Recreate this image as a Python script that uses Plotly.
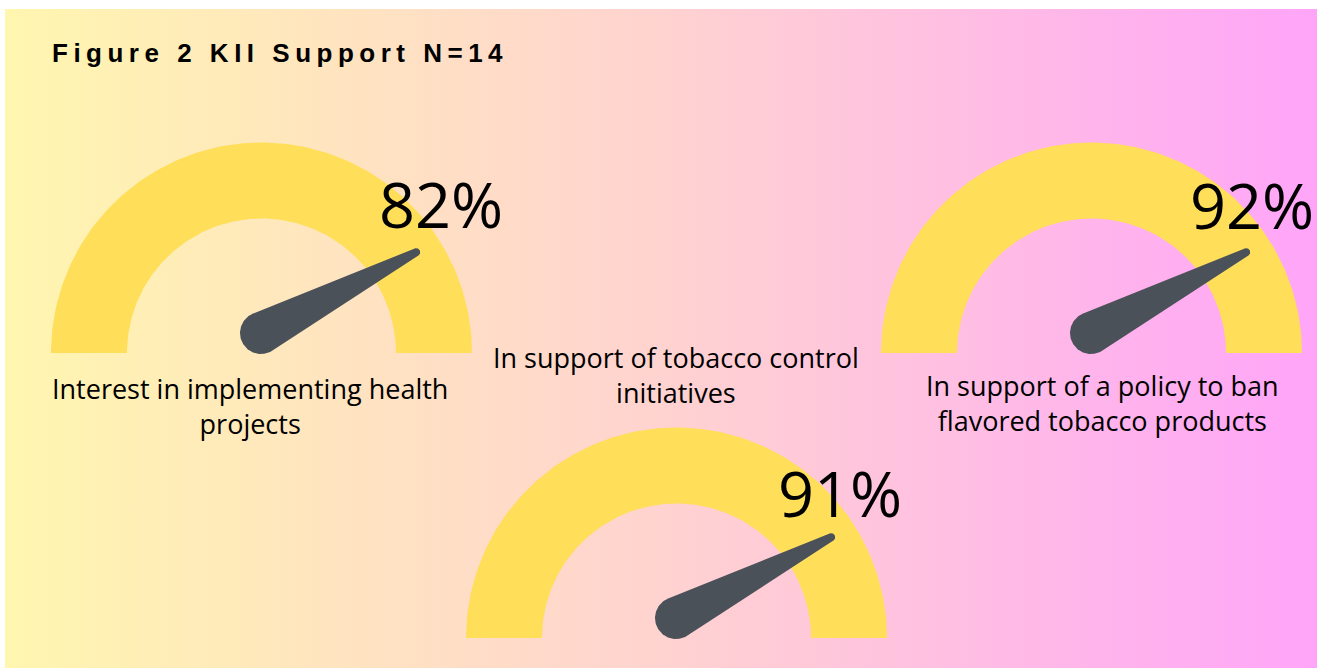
import numpy as np
import plotly.graph_objects as go

# ---------------- data ----------------
TITLE = "Figure 2 KII Support N=14"
GAUGE_LABELS = [
    "Interest in implementing health<br>projects",
    "In support of tobacco control<br>initiatives",
    "In support of a policy to ban<br>flavored tobacco products",
]
GAUGE_VALUES = [82, 91, 92]

# ---------------- layout / style ----------------
W, H = 1317, 669
CENTERS = [(261.5, 353), (676.5, 638), (1091.5, 353)]      # arc base centre (px)
VALUE_POS = [(441, 203), (840, 492), (1252, 204)]           # percent text centre
LABEL_POS = [(250, 406), (676, 375), (1102, 403)]           # label centre
R_OUT, R_IN = 210.5, 134.5
ARC_COLOR = "#FFDE59"
NEEDLE_COLOR = "#4B5159"
NEEDLE_ANGLE = 27.5      # decorative needle angle in the reference (deg)
NEEDLE_LEN, R_BASE, R_TIP = 175, 21, 4
TEXT_FONT = "Open Sans"

fig = go.Figure()

# background gradient panel
fig.add_trace(go.Scatter(
    x=[5, W, W, 5, 5], y=[9, 9, 668, 668, 9], mode="lines",
    line=dict(width=0), fill="toself",
    fillgradient=dict(type="horizontal",
                      colorscale=[[0, "#FFF6AF"], [0.5, "#FFD3D0"], [1, "#FFA5F9"]]),
    hoverinfo="skip", showlegend=False))

def arc_poly(cx, cy):
    t = np.linspace(0, np.pi, 181)
    xo = cx + R_OUT * np.cos(t)
    yo = cy - R_OUT * np.sin(t)
    xi = cx + R_IN * np.cos(t[::-1])
    yi = cy - R_IN * np.sin(t[::-1])
    return np.r_[xo, xi, xo[0]], np.r_[yo, yi, yo[0]]

def needle_poly(px, py):
    th = np.radians(NEEDLE_ANGLE)
    phi = np.arcsin((R_BASE - R_TIP) / NEEDLE_LEN)
    a1 = th + (np.pi / 2 - phi)
    a2 = th - (np.pi / 2 - phi) + 2 * np.pi
    tx, ty = np.cos(th) * NEEDLE_LEN, np.sin(th) * NEEDLE_LEN
    base = np.linspace(a1, a2, 80)
    tip = np.linspace(a2 - 2 * np.pi, a1, 30)
    xs = np.r_[R_BASE * np.cos(base), tx + R_TIP * np.cos(tip)]
    ys = np.r_[R_BASE * np.sin(base), ty + R_TIP * np.sin(tip)]
    return px + xs, py - ys

for (cx, cy), val, lab, (vx, vy), (lx, ly) in zip(CENTERS, GAUGE_VALUES, GAUGE_LABELS,
                                                 VALUE_POS, LABEL_POS):
    ax, ay = arc_poly(cx, cy)
    fig.add_trace(go.Scatter(x=ax, y=ay, mode="lines", line=dict(width=0),
                             fill="toself", fillcolor=ARC_COLOR,
                             hoverinfo="skip", showlegend=False))
    nx, ny = needle_poly(cx - 0.5, cy - 20)
    fig.add_trace(go.Scatter(x=nx, y=ny, mode="lines", line=dict(width=0),
                             fill="toself", fillcolor=NEEDLE_COLOR,
                             hoverinfo="skip", showlegend=False))
    fig.add_annotation(x=vx, y=vy, text=f"{val}%", showarrow=False,
                       xanchor="center", yanchor="middle",
                       font=dict(family=TEXT_FONT, size=63, color="#000000"))
    fig.add_annotation(x=lx, y=ly, text=lab, showarrow=False,
                       xanchor="center", yanchor="middle", align="center",
                       font=dict(family=TEXT_FONT, size=27, color="#000000"))

fig.add_annotation(x=50, y=53, xanchor="left", yanchor="middle", showarrow=False,
                   text=f'<span style="letter-spacing:5.5px">{TITLE}</span>',
                   font=dict(family="Liberation Sans", size=26, color="#000000",
                             weight="bold"))

fig.update_layout(
    width=W, height=H, margin=dict(l=0, r=0, t=0, b=0),
    paper_bgcolor="white", plot_bgcolor="rgba(0,0,0,0)",
    xaxis=dict(range=[0, W], visible=False, fixedrange=True),
    yaxis=dict(range=[H, 0], visible=False, fixedrange=True),
    showlegend=False, hovermode=False,
)

fig.write_html("out.html", config={"displayModeBar": False, "staticPlot": True})
